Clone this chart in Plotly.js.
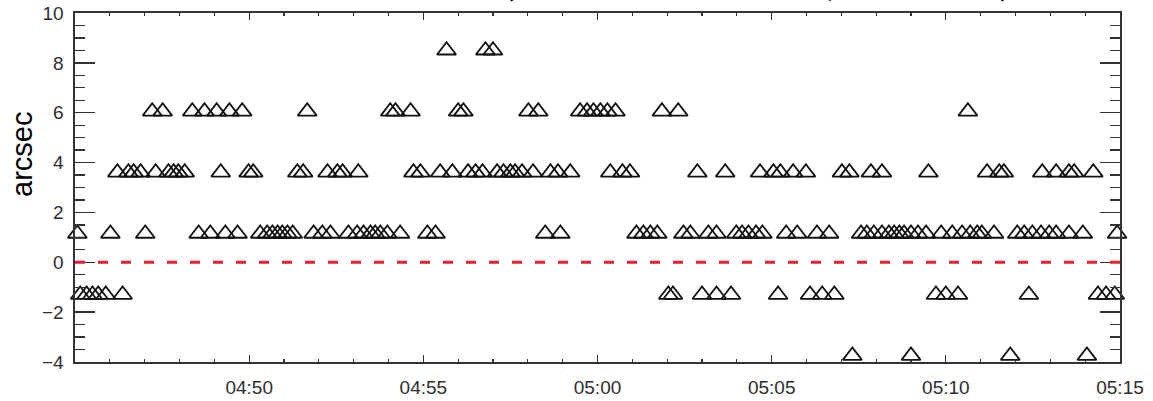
<!DOCTYPE html>
<html>
<head>
<meta charset="utf-8">
<script src="https://cdn.plot.ly/plotly-3.0.1.min.js"></script>
<style>html,body{margin:0;padding:0;background:#fff;}#chart{width:1153px;height:401px;}</style>
</head>
<body>
<div id="chart"></div>
<script>
// ---- data (times in UT, offsets in arcsec) ----
const day = "2007-01-01 ";
const levels = [-3.75, -1.3, 1.15, 3.6, 6.05, 8.5];
const times_m375 = ["05:07:19","05:09:00","05:11:51","05:14:03"];
const times_m130 = ["04:45:09","04:45:20","04:45:30","04:45:40","04:45:53","04:46:22","05:02:02","05:02:10","05:03:00","05:03:25","05:03:50","05:05:11","05:06:06","05:06:27","05:06:48","05:09:43","05:10:00","05:10:21","05:12:23","05:14:22","05:14:36","05:14:51"];
const times_p115 = ["04:45:04","04:46:01","04:47:01","04:48:33","04:48:53","04:49:19","04:49:40","04:50:19","04:50:31","04:50:40","04:50:49","04:50:57","04:51:06","04:51:15","04:51:51","04:52:06","04:52:20","04:52:51","04:53:06","04:53:17","04:53:29","04:53:37","04:53:46","04:53:58","04:54:20","04:55:07","04:55:21","04:58:30","04:58:56","05:01:07","05:01:19","05:01:31","05:01:43","05:02:28","05:02:40","05:03:11","05:03:25","05:03:59","05:04:09","05:04:20","05:04:33","05:04:44","05:05:25","05:05:44","05:06:18","05:06:39","05:07:34","05:07:44","05:07:56","05:08:10","05:08:22","05:08:31","05:08:40","05:08:48","05:09:00","05:09:12","05:09:26","05:09:52","05:10:11","05:10:28","05:10:42","05:10:54","05:11:02","05:11:23","05:12:03","05:12:15","05:12:29","05:12:44","05:12:58","05:13:10","05:13:32","05:13:56","05:14:55"];
const times_p360 = ["04:46:13","04:46:32","04:46:41","04:46:53","04:47:19","04:47:41","04:47:50","04:47:58","04:48:09","04:49:11","04:49:59","04:50:07","04:51:23","04:51:33","04:52:15","04:52:32","04:52:41","04:53:08","04:54:43","04:54:55","04:55:29","04:55:50","04:56:17","04:56:30","04:56:42","04:57:07","04:57:18","04:57:30","04:57:38","04:57:50","04:58:09","04:58:39","04:58:52","04:59:13","05:00:22","05:00:43","05:00:56","05:02:52","05:03:40","05:04:40","05:05:03","05:05:15","05:05:37","05:05:59","05:07:01","05:07:14","05:07:51","05:08:10","05:09:30","05:11:11","05:11:32","05:11:40","05:12:46","05:13:10","05:13:32","05:13:41","05:14:14"];
const times_p605 = ["04:47:13","04:47:31","04:48:22","04:48:43","04:49:04","04:49:26","04:49:48","04:51:40","04:54:03","04:54:12","04:54:38","04:56:00","04:56:09","04:58:01","04:58:18","04:59:30","04:59:42","04:59:53","05:00:05","05:00:17","05:00:31","05:01:51","05:02:19","05:10:38"];
const times_p850 = ["04:55:40","04:56:47","04:57:00"];
const xRange = ["04:45:00","05:15:00"];
const xTickLabels = ["04:50","04:55","05:00","05:05","05:10","05:15"];
const yRange = [-4, 10];
const refLevel = 0;
const yTitle = "arcsec";
const chartTitle = "中心位置差(Hinode XRT − SOT, 04:45 UT)";

const rows = [times_m375, times_m130, times_p115, times_p360, times_p605, times_p850];

const traces = rows.map((ts, i) => ({
  type: "scatter",
  mode: "markers",
  x: ts.map(t => day + t),
  y: ts.map(() => levels[i]),
  marker: {symbol: "triangle-up-open", size: 16.5, color: "#111", line: {width: 1.8, color: "#111"}},
  cliponaxis: false,
  showlegend: false,
  hoverinfo: "x+y"
}));

const axisCommon = {
  showline: true, mirror: "ticks", linecolor: "#333", linewidth: 1.6,
  ticks: "inside", tickcolor: "#333", tickwidth: 1.3,
  showgrid: false, zeroline: false,
  tickfont: {family: "Liberation Sans, Arial, sans-serif", size: 19, color: "#2e2e2e"}
};

const layout = {
  width: 1153, height: 401,
  margin: {l: 75, r: 33, t: 13, b: 39, pad: 0},
  paper_bgcolor: "#fff", plot_bgcolor: "#fff",
  showlegend: false,
  xaxis: Object.assign({}, axisCommon, {
    type: "date",
    range: xRange.map(t => day + t),
    tickmode: "array",
    tickvals: xTickLabels.map(t => day + t),
    ticktext: xTickLabels,
    ticklen: 7,
    ticklabelstandoff: 8,
    minor: {dtick: 60000, tick0: day + xRange[0], ticklen: 3, tickcolor: "#333", tickwidth: 1.3, ticks: "inside", showgrid: false}
  }),
  yaxis: Object.assign({}, axisCommon, {
    range: yRange,
    tickmode: "linear", tick0: 0, dtick: 2,
    ticklen: 20,
    ticklabelstandoff: 6,
    minor: {dtick: 0.5, ticklen: 10, tickcolor: "#333", tickwidth: 1.3, ticks: "inside", showgrid: false}
  }),
  shapes: [{
    type: "line", xref: "paper", x0: 0, x1: 1, yref: "y", y0: refLevel, y1: refLevel,
    line: {color: "#e8202e", width: 3, dash: "10px,13px"}
  }],
  annotations: [
    {
      text: yTitle, textangle: -90, showarrow: false,
      xref: "paper", yref: "paper", x: (22 - 75) / 1045, y: 1 - (155 - 13) / 349,
      xanchor: "center", yanchor: "middle",
      font: {family: "Liberation Sans, Arial, sans-serif", size: 29, color: "#000"}
    },
    {
      text: chartTitle, showarrow: false,
      xref: "paper", yref: "paper", x: (310 - 75) / 1045, y: 1 + 6 / 349,
      xanchor: "left", yanchor: "bottom",
      font: {family: "Noto Sans CJK JP, Liberation Sans, sans-serif", size: 38, color: "#000"}
    }
  ]
};

Plotly.newPlot("chart", traces, layout, {displayModeBar: false, staticPlot: true});
</script>
</body>
</html>
